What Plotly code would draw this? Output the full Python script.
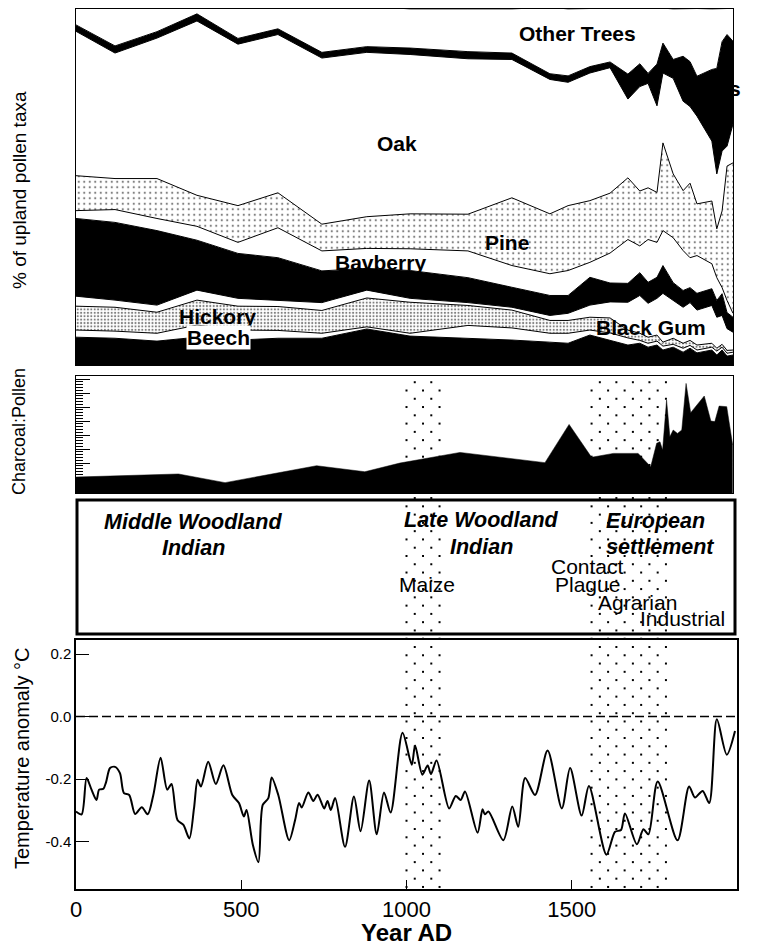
import numpy as np
import plotly.graph_objects as go

# The page body adds an 8 px margin, so the figure is drawn 8 px in from the window corner.
OFF = 8
W, H = 759 - OFF, 948 - OFF
FONT = "Liberation Sans, Arial, Helvetica, sans-serif"

def fx(p):
    return min(1.0, max(0.0, (p - OFF) / W))

def fy(p):
    return min(1.0, max(0.0, 1 - (p - OFF) / H))

# ---------------- Pollen diagram (percent of upland pollen taxa) ----------------
pollen_years = [0, 118, 245, 366, 490, 611, 744, 880, 1011, 1186, 1319, 1434, 1489, 1555,
                1616, 1670, 1706, 1731, 1758, 1776, 1807, 1837, 1858, 1879, 1924, 1939,
                1955, 1970, 1988]
black_gum = [7.8, 7.5, 6.7, 7.8, 7.0, 7.5, 7.5, 10.1, 8.1, 7.5, 7.0, 6.4, 6.1, 8.4, 7.0, 5.6,
             6.1, 5.0, 5.6, 4.2, 5.0, 3.6, 4.7, 3.4, 4.2, 2.8, 4.2, 2.5, 2.8]
beech = [2.0, 2.0, 2.2, 3.4, 2.8, 2.2, 1.4, 0.6, 0.8, 3.6, 3.4, 2.5, 2.8, 1.4, 2.0, 2.0, 0.8,
         1.1, 1.1, 1.1, 0.8, 1.1, 0.8, 0.8, 0.8, 1.1, 0.8, 0.8, 0.8]
hickory = [6.7, 6.7, 5.9, 7.0, 6.7, 6.7, 6.4, 8.1, 8.7, 5.6, 5.0, 3.6, 3.6, 3.6, 4.2, 2.2, 2.0,
           1.7, 1.7, 1.1, 1.7, 1.4, 1.4, 1.4, 1.1, 0.8, 0.8, 0.8, 0.6]
other_hardwoods = [2.8, 2.0, 2.0, 2.8, 2.2, 1.7, 2.2, 2.2, 1.1, 0.8, 0.8, 1.4, 2.0, 3.4, 4.5,
                   7.8, 10.6, 9.5, 10.3, 13.7, 10.6, 10.1, 10.6, 9.8, 10.6, 8.7, 8.1, 6.1, 5.0]
sweetgum = [21.8, 21.8, 20.9, 14.0, 12.6, 12.0, 8.9, 6.1, 7.8, 7.0, 5.6, 5.6, 5.0, 7.8, 5.3,
            5.3, 6.4, 5.9, 5.9, 7.8, 5.0, 4.7, 4.2, 4.7, 4.7, 4.7, 6.1, 4.5, 4.2]
bayberry = [2.2, 3.6, 3.4, 3.9, 3.1, 8.4, 5.6, 5.6, 6.1, 7.5, 6.1, 6.1, 7.0, 4.2, 8.4, 12.3,
            7.5, 12.0, 9.8, 9.8, 12.6, 11.2, 8.4, 10.6, 7.0, 6.4, 1.7, 3.4, 1.1]
pine = [9.8, 8.7, 11.2, 8.7, 10.3, 9.8, 7.5, 8.9, 9.8, 10.3, 19.0, 16.8, 18.2, 17.3, 16.8, 17.3,
        15.4, 14.5, 14.0, 24.6, 17.9, 16.8, 20.9, 14.5, 17.6, 13.7, 21.5, 37.7, 42.2]
oak = [40.5, 35.2, 39.4, 48.9, 45.3, 44.4, 46.6, 46.1, 44.7, 43.6, 38.8, 37.7, 34.6, 35.8, 35.2,
       22.1, 29.3, 29.3, 24.3, 19.6, 26.8, 25.1, 21.5, 24.6, 16.8, 15.4, 16.8, 5.6, 10.9]
chestnut = [1.8, 2.0, 1.8, 2.0, 1.6, 1.6, 1.6, 1.6, 1.8, 2.0, 1.8, 1.6, 1.8, 1.8, 1.6, 7.0, 6.4,
            2.8, 11.7, 8.4, 5.3, 12.6, 12.6, 11.2, 20.1, 29.6, 30.7, 31.3, 23.2]
other_trees = [4.6, 10.6, 6.5, 1.6, 8.5, 5.7, 12.4, 11.3, 11.0, 12.0, 12.4, 18.6, 18.8, 16.3,
               15.8, 18.4, 15.4, 18.2, 15.6, 9.8, 14.2, 13.4, 14.8, 19.0, 17.0, 16.8, 9.2, 7.3, 9.2]

pollen_layers = [
    ("Black Gum", black_gum, "black", None),
    ("Beech", beech, "white", None),
    ("Hickory", hickory, "white", "hickory"),
    ("Other hardwoods", other_hardwoods, "white", None),
    ("Sweetgum", sweetgum, "black", None),
    ("Bayberry", bayberry, "white", None),
    ("Pine", pine, "white", "pine"),
    ("Oak", oak, "white", None),
    ("Chestnut", chestnut, "black", None),
    ("Other Trees", other_trees, "white", None),
]

# ---------------- Charcoal:Pollen ----------------
charcoal_years = [0, 310, 451, 728, 874, 980, 1162, 1419, 1492, 1560, 1626, 1701, 1739, 1757,
                  1767, 1775, 1787, 1797, 1807, 1820, 1833, 1846, 1860, 1901, 1921, 1933, 1946,
                  1969, 1987]
charcoal_ratio = [1.14, 1.36, 0.74, 1.95, 1.52, 2.14, 2.90, 2.17, 4.90, 2.55, 2.83, 2.83, 1.88,
                  3.55, 3.66, 3.07, 6.64, 4.02, 4.50, 4.26, 4.50, 7.83, 5.74, 6.93, 5.14, 5.10,
                  6.21, 6.17, 3.43]

# ---------------- Temperature anomaly ----------------
temp_years = [0, 17, 32, 47, 62, 70, 83, 91, 103, 118, 133, 145, 161, 179, 199, 217, 234, 256,
              276, 289, 307, 325, 343, 357, 368, 378, 400, 423, 446, 473, 493, 508, 516, 535,
              552, 565, 582, 592, 612, 645, 663, 675, 683, 703, 718, 731, 751, 761, 771, 784,
              814, 841, 861, 887, 910, 932, 952, 988, 1016, 1026, 1048, 1064, 1074, 1091, 1129,
              1149, 1164, 1177, 1215, 1230, 1237, 1248, 1293, 1320, 1338, 1359, 1389, 1427,
              1470, 1495, 1530, 1552, 1605, 1631, 1649, 1661, 1697, 1717, 1732, 1760, 1820,
              1855, 1873, 1896, 1916, 1939, 1969, 1994]
temp_anomaly = [-0.304, -0.313, -0.197, -0.234, -0.267, -0.234, -0.231, -0.21, -0.165, -0.161,
                -0.181, -0.245, -0.251, -0.312, -0.29, -0.313, -0.251, -0.132, -0.234, -0.216,
                -0.331, -0.347, -0.39, -0.294, -0.202, -0.224, -0.145, -0.216, -0.156, -0.251,
                -0.277, -0.32, -0.299, -0.41, -0.466, -0.283, -0.261, -0.195, -0.251, -0.396,
                -0.331, -0.277, -0.291, -0.243, -0.27, -0.25, -0.294, -0.27, -0.299, -0.261,
                -0.417, -0.256, -0.367, -0.205, -0.377, -0.243, -0.307, -0.052, -0.154, -0.093,
                -0.186, -0.157, -0.184, -0.141, -0.294, -0.254, -0.267, -0.24, -0.372, -0.297,
                -0.313, -0.304, -0.396, -0.288, -0.353, -0.197, -0.251, -0.109, -0.294, -0.165,
                -0.317, -0.222, -0.442, -0.369, -0.363, -0.31, -0.409, -0.361, -0.377, -0.208,
                -0.396, -0.224, -0.259, -0.238, -0.277, -0.009, -0.122, -0.046]
temp_ticks = [0.2, 0.0, -0.2, -0.4]
temp_tick_labels = ["0.2", "0.0", "-0.2", "-0.4"]
year_ticks = [0, 500, 1000, 1500, 2000]

# ---------------- Cultural periods / events ----------------
band_starts = [1000, 1560]
band_ends = [1100, 1790]

fig = go.Figure()

patterns = {
    "pine": dict(shape=".", fgcolor="black", bgcolor="white", size=5.5, solidity=0.12),
    "hickory": dict(shape=".", fgcolor="black", bgcolor="white", size=3.4, solidity=0.3),
}
for name, vals, color, pat in pollen_layers:
    kw = {}
    if pat:
        kw["fillpattern"] = patterns[pat]
    fig.add_trace(go.Scatter(
        x=pollen_years, y=vals, name=name, stackgroup="pollen", mode="lines",
        line=dict(color="black", width=1), fillcolor=color, xaxis="x", yaxis="y",
        hoverinfo="skip", **kw))

fig.add_trace(go.Scatter(
    x=charcoal_years, y=charcoal_ratio, mode="lines", fill="tozeroy", fillcolor="black",
    line=dict(color="black", width=0.5), xaxis="x2", yaxis="y2", hoverinfo="skip"))

# stippled bands marking the Maize and European-settlement periods (staggered dot texture)
dot_dx = 25.0       # years between columns
dot_dy = 1.0 / 62   # fraction of the band height between rows
bx, by = [], []
for s, e in zip(band_starts, band_ends):
    for r, yv in enumerate(np.arange(0.004, 1.0, dot_dy)):
        for xv in np.arange(s + (r % 2) * dot_dx, e + 0.1, 2 * dot_dx):
            bx.append(xv)
            by.append(yv)
fig.add_trace(go.Scatter(
    x=bx, y=by, mode="markers", marker=dict(symbol="square", size=2, color="black",
                                            line=dict(width=0)),
    xaxis="x4", yaxis="y4", hoverinfo="skip"))

fig.add_trace(go.Scatter(
    x=temp_years, y=temp_anomaly, mode="lines",
    line=dict(color="black", width=2, shape="spline", smoothing=0.8),
    xaxis="x3", yaxis="y3", hoverinfo="skip"))

frame = dict(showline=True, linecolor="black", mirror=True, showgrid=False, zeroline=False,
             automargin=False)

fig.update_layout(
    width=W, height=H, margin=dict(l=0, r=0, t=0, b=0, autoexpand=False),
    paper_bgcolor="white", plot_bgcolor="rgba(0,0,0,0)", showlegend=False,
    font=dict(family=FONT, color="black"),
    xaxis=dict(domain=[fx(76), fx(733)], range=[0, 1988], showticklabels=False, ticks="",
               anchor="y", linewidth=1, **frame),
    yaxis=dict(domain=[fy(365), fy(8.5)], range=[0, 100], showticklabels=False, ticks="",
               anchor="x", linewidth=1, **frame),
    xaxis2=dict(domain=[fx(76), fx(733)], range=[0, 1988], showticklabels=False, ticks="",
                anchor="y2", linewidth=1, **frame),
    yaxis2=dict(domain=[fy(493), fy(376)], range=[0, 8.36], showticklabels=False,
                ticks="inside", ticklen=14, dtick=1, tick0=0.14, tickcolor="black",
                minor=dict(ticks="inside", ticklen=7, dtick=0.2, tick0=0.14,
                           tickcolor="black", showgrid=False),
                anchor="x2", linewidth=1, **frame),
    xaxis3=dict(domain=[fx(76), fx(737)], range=[0, 2000], tickvals=year_ticks,
                ticktext=[str(v) for v in year_ticks], ticks="inside", ticklen=9,
                tickcolor="black", tickfont=dict(size=22, family=FONT),
                anchor="y3", linewidth=1.5, **frame),
    yaxis3=dict(domain=[fy(889), fy(640)], range=[-0.552, 0.245], tickvals=temp_ticks,
                ticktext=temp_tick_labels, ticks="inside", ticklen=13, tickcolor="black",
                tickfont=dict(size=15, family=FONT), anchor="x3", linewidth=1.5, **frame),
    xaxis4=dict(domain=[fx(76), fx(737)], range=[0, 2000], visible=False, anchor="y4",
                automargin=False),
    yaxis4=dict(domain=[fy(889), fy(376)], range=[0, 1], visible=False, anchor="x4",
                automargin=False),
)

# zero reference line
fig.add_shape(type="line", xref="x3 domain", yref="y3", x0=0, x1=1, y0=0, y1=0,
              line=dict(color="black", width=1.5, dash="9px,4px"))
# cultural period box
fig.add_shape(type="rect", xref="paper", yref="paper", x0=fx(77), x1=fx(735),
              y0=fy(634), y1=fy(500), line=dict(color="black", width=3))

def ann(text, x, y, size=21, bold=False, italic=False, xref="paper", yref="paper",
        angle=0, xanchor="center", bg=None):
    t = text
    if bold:
        t = "<b>" + t + "</b>"
    if italic:
        t = "<i>" + t + "</i>"
    extra = {}
    if bg:
        extra = dict(bgcolor=bg, borderpad=0)
    fig.add_annotation(text=t, x=x, y=y, xref=xref, yref=yref, showarrow=False,
                       textangle=angle, xanchor=xanchor, yanchor="middle",
                       font=dict(size=size, family=FONT, color="black"), **extra)

# pollen labels (year, percent)
ann("Other Trees", 1516, 93, bold=True, xref="x", yref="y")
ann("Oak", 971, 62, bold=True, xref="x", yref="y")
ann("Pine", 1304, 34.4, bold=True, xref="x", yref="y")
ann("Bavberry", 920, 28.8, bold=True, xref="x", yref="y")
ann("Hickory", 427, 13.6, bold=True, xref="x", yref="y")
ann("Beech", 430, 7.6, bold=True, xref="x", yref="y", bg="white")
ann("Black Gum", 1740, 10.6, bold=True, xref="x", yref="y")
ann("s", fx(735), fy(88), bold=True)

# cultural periods
ann("Middle Woodland", 354, fy(522), size=21.5, bold=True, italic=True, xref="x3")
ann("Indian", 354, fy(548), size=21.5, bold=True, italic=True, xref="x3")
ann("Late Woodland", 1228, fy(520), size=21.5, bold=True, italic=True, xref="x3")
ann("Indian", 1228, fy(547), size=21.5, bold=True, italic=True, xref="x3")
ann("European", 1752, fy(521), size=21.5, bold=True, italic=True, xref="x3")
ann("settlement", 1767, fy(547), size=21.5, bold=True, italic=True, xref="x3")
ann("Maize", 1062, fy(584), size=21, xref="x3")
ann("Contact", 1549, fy(566), size=21, xref="x3")
ann("Plague", 1549, fy(584), size=21, xref="x3")
ann("Agrarian", 1700, fy(602), size=21, xref="x3")
ann("Industrial", 1834, fy(618), size=21, xref="x3")

# axis titles
ann("% of upland pollen taxa", fx(19), fy(190), size=19, angle=-90)
ann("Charcoal:Pollen", fx(19), fy(432), size=18, angle=-90)
ann("Temperature anomaly °C", fx(22), fy(759), size=20, angle=-90)
ann("Year AD", fx(407), fy(932), size=24, bold=True)

fig.write_html("out.html")
